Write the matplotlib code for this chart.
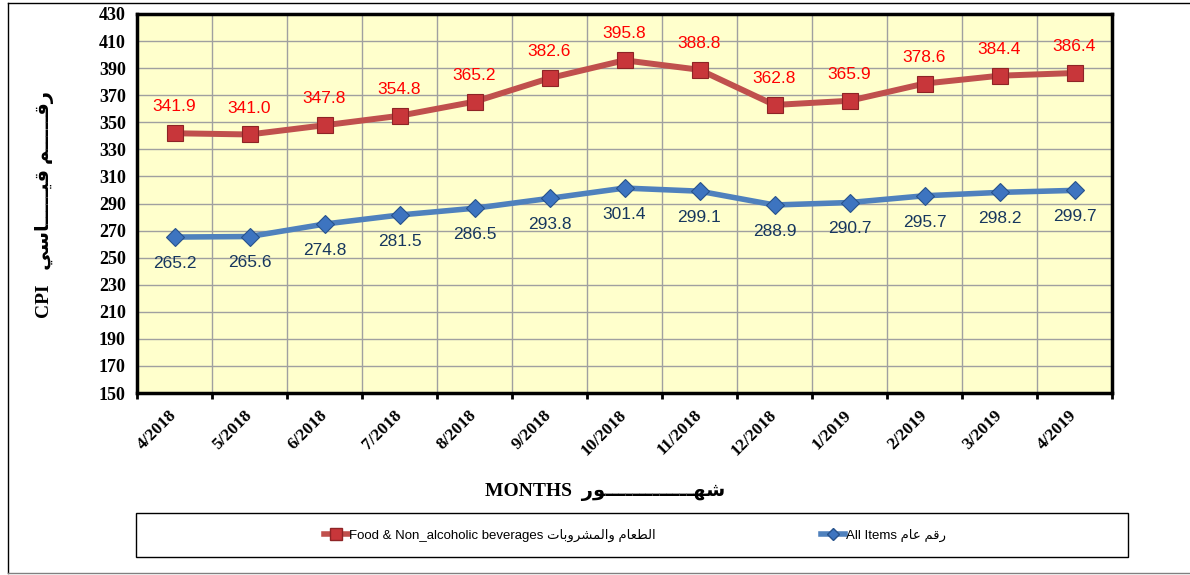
import matplotlib
matplotlib.use('Agg')
import matplotlib.pyplot as plt
from matplotlib.lines import Line2D
from matplotlib.patches import Rectangle
from matplotlib.font_manager import FontProperties
import numpy as np

# Data
months = ['4/2018', '5/2018', '6/2018', '7/2018', '8/2018', '9/2018', '10/2018',
          '11/2018', '12/2018', '1/2019', '2/2019', '3/2019', '4/2019']
food = [341.9, 341.0, 347.8, 354.8, 365.2, 382.6, 395.8, 388.8, 362.8, 365.9, 378.6, 384.4, 386.4]
all_items = [265.2, 265.6, 274.8, 281.5, 286.5, 293.8, 301.4, 299.1, 288.9, 290.7, 295.7, 298.2, 299.7]
y_ticks = list(range(150, 431, 20))

food_en = 'Food & Non_alcoholic beverages'
food_ar = 'الطعام والمشروبات'
all_en = 'All Items'
all_ar = 'رقم عام'
ylabel_en = 'CPI'
ylabel_ar = 'رقـــــم قيـــــاسي'
xlabel_en = 'MONTHS'
xlabel_ar = 'شهـــــــــــــور'

# matplotlib does no Arabic shaping, so pick presentation forms by hand
DUAL = {'ب': 0xFE8F, 'ت': 0xFE95, 'س': 0xFEB1, 'ش': 0xFEB5, 'ط': 0xFEC1, 'ع': 0xFEC9,
        'ق': 0xFED5, 'ل': 0xFEDD, 'م': 0xFEE1, 'ه': 0xFEE9, 'ي': 0xFEF1}
RIGHT = {'ا': 0xFE8D, 'ر': 0xFEAD, 'و': 0xFEED}
TATWEEL = 'ـ'


def shape(text):
    out = []
    for i, ch in enumerate(text):
        prev = text[i - 1] if i > 0 else ''
        nxt = text[i + 1] if i + 1 < len(text) else ''
        jp = prev in DUAL or prev == TATWEEL
        jn = nxt in DUAL or nxt in RIGHT or nxt == TATWEEL
        if ch in DUAL:
            off = 3 if (jp and jn) else 2 if jn else 1 if jp else 0
            out.append(chr(DUAL[ch] + off))
        elif ch in RIGHT:
            out.append(chr(RIGHT[ch] + (1 if jp else 0)))
        else:
            out.append(ch)
    return ''.join(reversed(out))  # visual order


W, H = 1190, 575
fig = plt.figure(figsize=(W / 100, H / 100), dpi=100)
ax = fig.add_axes([137 / W, 1 - 393 / H, 975 / W, 379 / H])
ax.set_facecolor('#FFFFCC')

x = np.arange(len(months))
ax.plot(x, food, color='#C0504D', lw=4.3, marker='s', ms=12,
        mfc='#C8363A', mec='#8E2426', mew=0.8, zorder=4)
ax.plot(x, all_items, color='#4F81BD', lw=4.0, marker='D', ms=9.5,
        mfc='#3D74C0', mec='#27528C', mew=0.8, zorder=4)

for xi, v in zip(x, food):
    ax.annotate(f'{v:.1f}', (xi, v), xytext=(0, 19), textcoords='offset points',
                ha='center', va='center', color='#FF0000', fontsize=12.5,
                family='Liberation Sans', zorder=5)
for xi, v in zip(x, all_items):
    ax.annotate(f'{v:.1f}', (xi, v), xytext=(0, -19), textcoords='offset points',
                ha='center', va='center', color='#17375E', fontsize=12.5,
                family='Liberation Sans', zorder=5)

ax.set_xlim(-0.5, len(months) - 0.5)
ax.set_ylim(150, 430)
ax.set_yticks(y_ticks)
ax.set_xticks(x)
ax.set_xticks(np.arange(-0.5, len(months), 1), minor=True)
ax.set_xticklabels(months, rotation=45, ha='right', va='center',
                   rotation_mode='anchor', fontsize=12.5, fontweight='bold',
                   family='Liberation Serif')
ax.set_yticklabels([str(t) for t in y_ticks], fontsize=13, fontweight='bold',
                   family='Liberation Serif')
ax.tick_params(axis='x', which='major', length=0, pad=14)
ax.tick_params(axis='x', which='minor', length=4, width=2, direction='out')
ax.tick_params(axis='y', length=0, pad=8)

ax.grid(True, axis='y', color='#A0A0A0', lw=1)
ax.grid(True, axis='x', which='minor', color='#A0A0A0', lw=1)
ax.set_axisbelow(True)
for s in ax.spines.values():
    s.set_linewidth(2.5)
    s.set_color('black')

# axis titles
mixed_bold = dict(family=['Liberation Serif', 'DejaVu Sans'], fontweight='bold', fontsize=14)
fig.text(45 / W, 1 - 205 / H, ylabel_en + '   ' + shape(ylabel_ar), rotation=90,
         ha='center', va='center', **mixed_bold)
fig.text(605 / W, 1 - 492 / H, xlabel_en + '  ' + shape(xlabel_ar),
         ha='center', va='center', **mixed_bold)

# legend in a box at the bottom
fig.patches.append(Rectangle((136 / W, 1 - 557 / H), 992 / W, 44 / H, transform=fig.transFigure,
                             fill=False, ec='black', lw=1))
handles = [Line2D([], [], color='#C0504D', lw=4, marker='s', ms=8, mfc='#C8363A', mec='#8E2426'),
           Line2D([], [], color='#4F81BD', lw=4, marker='D', ms=6.5, mfc='#3D74C0', mec='#27528C')]
labels = [food_en + ' ' + shape(food_ar), all_en + ' ' + shape(all_ar)]
fig.legend(handles, labels, loc='center', bbox_to_anchor=(635 / W, 1 - 535 / H), ncol=2,
           frameon=False, handlelength=1.8, handletextpad=0.1, columnspacing=12.5,
           prop=FontProperties(family=['Liberation Sans', 'DejaVu Sans'], size=9.5))

# outer chart border
fig.add_artist(Line2D([8 / W, 1], [1 - 2.5 / H] * 2, transform=fig.transFigure, color='black', lw=1))
fig.add_artist(Line2D([8 / W] * 2, [1 - 2.5 / H, 1 - 573 / H], transform=fig.transFigure, color='black', lw=1))
fig.add_artist(Line2D([8 / W, 1], [1 - 573 / H] * 2, transform=fig.transFigure, color='#808080', lw=1))

fig.savefig('out.png', dpi=100)
